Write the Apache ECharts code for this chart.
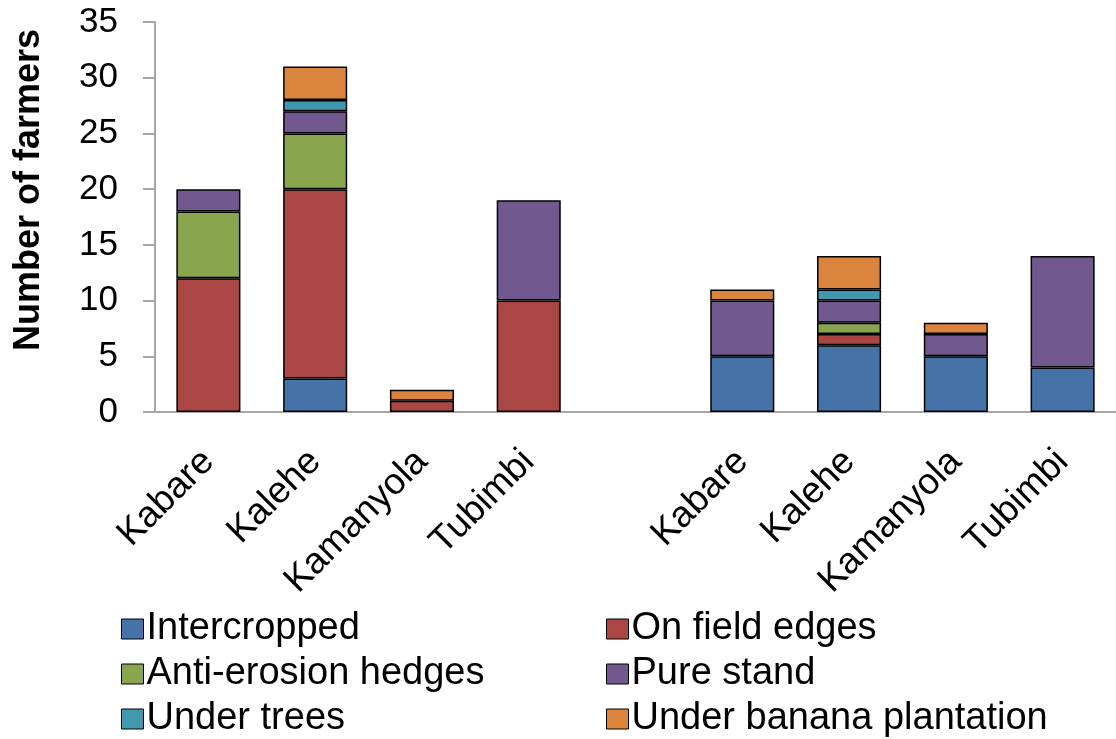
<!DOCTYPE html>
<html>
<head>
<meta charset="utf-8">
<script src="https://cdn.jsdelivr.net/npm/echarts@6/dist/echarts.min.js"></script>
<style>html,body{margin:0;padding:0;background:#fff}#c{width:1116px;height:739px}</style>
</head>
<body>
<div id="c"></div>
<script>
const categories = ['Kabare','Kalehe','Kamanyola','Tubimbi','','Kabare','Kalehe','Kamanyola','Tubimbi'];
const yTicks = [0,5,10,15,20,25,30,35];
const intercropped = [null, 3, null, null, null, 5, 6, 5, 4];
const onFieldEdges = [12, 17, 1, 10, null, null, 1, null, null];
const antiErosion = [6, 5, null, null, null, null, 1, null, null];
const pureStand = [2, 2, null, 9, null, 5, 2, 2, 10];
const underTrees = [null, 1, null, null, null, null, 1, null, null];
const underBanana = [null, 3, 1, null, null, 1, 3, 1, null];
const seriesNames = ['Intercropped','On field edges','Anti-erosion hedges','Pure stand','Under trees','Under banana plantation'];
const seriesColors = ['#4572A7','#AA4643','#89A54E','#71588F','#4198AF','#DB843D'];
const seriesData = [intercropped, onFieldEdges, antiErosion, pureStand, underTrees, underBanana];

const chart = echarts.init(document.getElementById('c'));
const font = 'Liberation Sans, Arial, sans-serif';
const legendCommon = {
  orient: 'vertical', top: 609, height: 130, padding: 0, icon: 'rect',
  itemWidth: 22, itemHeight: 20, itemGap: 5,
  itemStyle: {borderColor: '#000', borderWidth: 1},
  textStyle: {fontSize: 38, lineHeight: 40, fontFamily: font, color: '#000', padding: [0,0,0,-2]}
};
chart.setOption({
  animation: false,
  grid: {left: 155, right: 0, top: 22, bottom: 327, containLabel: false},
  legend: [
    Object.assign({data: [seriesNames[0], seriesNames[2], seriesNames[4]], left: 121}, legendCommon),
    Object.assign({data: [seriesNames[1], seriesNames[3], seriesNames[5]], left: 606}, legendCommon)
  ],
  xAxis: {
    type: 'category', data: categories,
    axisLine: {lineStyle: {color: '#a6a6a6', width: 2}},
    axisTick: {length: 12, lineStyle: {color: '#a6a6a6', width: 2}},
    axisLabel: {rotate: 45, fontSize: 37, fontFamily: font, color: '#000', margin: 44, interval: 0}
  },
  yAxis: {
    type: 'value', min: yTicks[0], max: yTicks[yTicks.length-1], interval: 5,
    name: 'Number of farmers', nameLocation: 'middle', nameGap: 108,
    nameTextStyle: {fontSize: 36, fontWeight: 'bold', fontFamily: font, color: '#000', padding: [0,0,0,54]},
    axisLine: {show: true, lineStyle: {color: '#a6a6a6', width: 2}},
    axisTick: {show: true, length: 12, lineStyle: {color: '#a6a6a6', width: 2}},
    splitLine: {show: false},
    axisLabel: {fontSize: 35, fontFamily: font, color: '#000', margin: 37}
  },
  series: seriesNames.map((n, i) => ({
    name: n, type: 'bar', stack: 'a', data: seriesData[i], barWidth: '60%',
    itemStyle: {color: seriesColors[i], borderColor: '#000', borderWidth: 1.5}
  }))
});
</script>
</body>
</html>
